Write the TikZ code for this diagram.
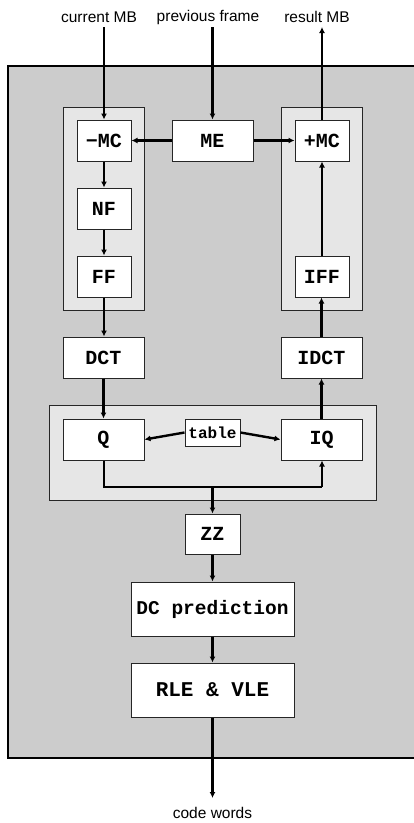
\documentclass[tikz,border=0pt]{standalone}
\usepackage{fontspec}
\setmainfont{Liberation Sans}
\newfontfamily\boxfont{Liberation Mono}
\usetikzlibrary{arrows.meta}
\definecolor{outergray}{HTML}{CCCCCC}
\definecolor{innergray}{HTML}{E6E6E6}
\tikzset{
  blk/.style={draw=black!85, line width=1pt, fill=white, inner sep=0pt,
    font=\boxfont\bfseries\fontsize{20}{22}\selectfont},
  grp/.style={draw=black!85, line width=1pt, fill=innergray},
  flow/.style={line width=2.4pt, -{Latex[length=6pt,width=6pt]}},
  wire/.style={line width=2.4pt},
  lbl/.style={font=\fontsize{15.5}{18}\selectfont, inner sep=0pt}
}
\begin{document}
\begin{tikzpicture}[x=1pt,y=-1pt]
\useasboundingbox (0,0) rectangle (413,823);
% outer frame
\draw[fill=outergray, draw=black, line width=1.4pt] (8,66) rectangle (420,758);
% groups
\draw[grp] (63,107) rectangle (144,310);
\draw[grp] (281,107) rectangle (362,310);
\draw[grp] (49,405) rectangle (376,500);
% blocks
\node[blk, minimum width=54pt, minimum height=41pt] (mmc) at (104,140.5) {\char"2212MC};
\node[blk, minimum width=81pt, minimum height=41pt] (me) at (212.5,140.5) {ME};
\node[blk, minimum width=54pt, minimum height=41pt] (pmc) at (322,140.5) {+MC};
\node[blk, minimum width=54pt, minimum height=41pt] (nf) at (104,208.5) {NF};
\node[blk, minimum width=54pt, minimum height=41pt] (ff) at (104,276.5) {FF};
\node[blk, minimum width=54pt, minimum height=41pt] (iff) at (322,276.5) {IFF};
\node[blk, minimum width=81pt, minimum height=41pt] (dct) at (103.5,357.5) {DCT};
\node[blk, minimum width=81pt, minimum height=41pt] (idct) at (321.5,357.5) {IDCT};
\node[blk, minimum width=81pt, minimum height=41pt] (q) at (103.5,439.5) {Q};
\node[blk, minimum width=81pt, minimum height=41pt] (iq) at (321.5,439.5) {IQ};
\node[blk, minimum width=55pt, minimum height=27pt, font=\boxfont\bfseries\fontsize{16}{18}\selectfont] (tab) at (212.5,432.5) {table};
\node[blk, minimum width=55pt, minimum height=40pt] (zz) at (212.5,534) {ZZ};
\node[blk, minimum width=163pt, minimum height=54pt, font=\boxfont\bfseries\fontsize{19.5}{22}\selectfont] (dcp) at (212.5,609) {DC prediction};
\node[blk, minimum width=163pt, minimum height=54pt, font=\boxfont\bfseries\fontsize{21}{23}\selectfont] (rle) at (212.5,690) {RLE \& VLE};
% labels
\node[lbl] (cur) at (99,17) {current MB};
\node[lbl] (prev) at (208,17) {previous frame};
\node[lbl] (res) at (317,17) {result MB};
\node[lbl] (code) at (212.5,813) {code words};
\coordinate (curs) at (104,27);
\coordinate (prevs) at (212.5,27);
\coordinate (rese) at (322,27);
\coordinate (codee) at (212.5,798);
% connectors
\draw[flow] (curs) -- (mmc.north);
\draw[flow] (prevs) -- (me.north);
\draw[flow] (pmc.north) -- (rese);
\draw[flow] (me.west) -- (mmc.east);
\draw[flow] (me.east) -- (pmc.west);
\draw[flow] (mmc.south) -- (nf.north);
\draw[flow] (nf.south) -- (ff.north);
\draw[flow] (ff.south) -- (ff.south |- dct.north);
\draw[flow] (dct.south) -- (q.north);
\draw[flow] (iq.north) -- (idct.south);
\draw[flow] (idct.north) -- (idct.north |- iff.south);
\draw[flow] (iff.north) -- (pmc.south);
\coordinate (jl) at (104,487);
\coordinate (jr) at (322,487);
\coordinate (jm) at (212.5,487);
\draw[wire] (q.south -| jl) -- (jl) -- (jr);
\draw[flow] (jr) -- (jr |- iq.south);
\draw[flow] (jm) -- (zz.north);
\draw[flow] (tab.west) -- (q.east);
\draw[flow] (tab.east) -- (iq.west);
\draw[flow] (zz.south) -- (dcp.north);
\draw[flow] (dcp.south) -- (rle.north);
\draw[flow] (rle.south) -- (codee);
\end{tikzpicture}
\end{document}
